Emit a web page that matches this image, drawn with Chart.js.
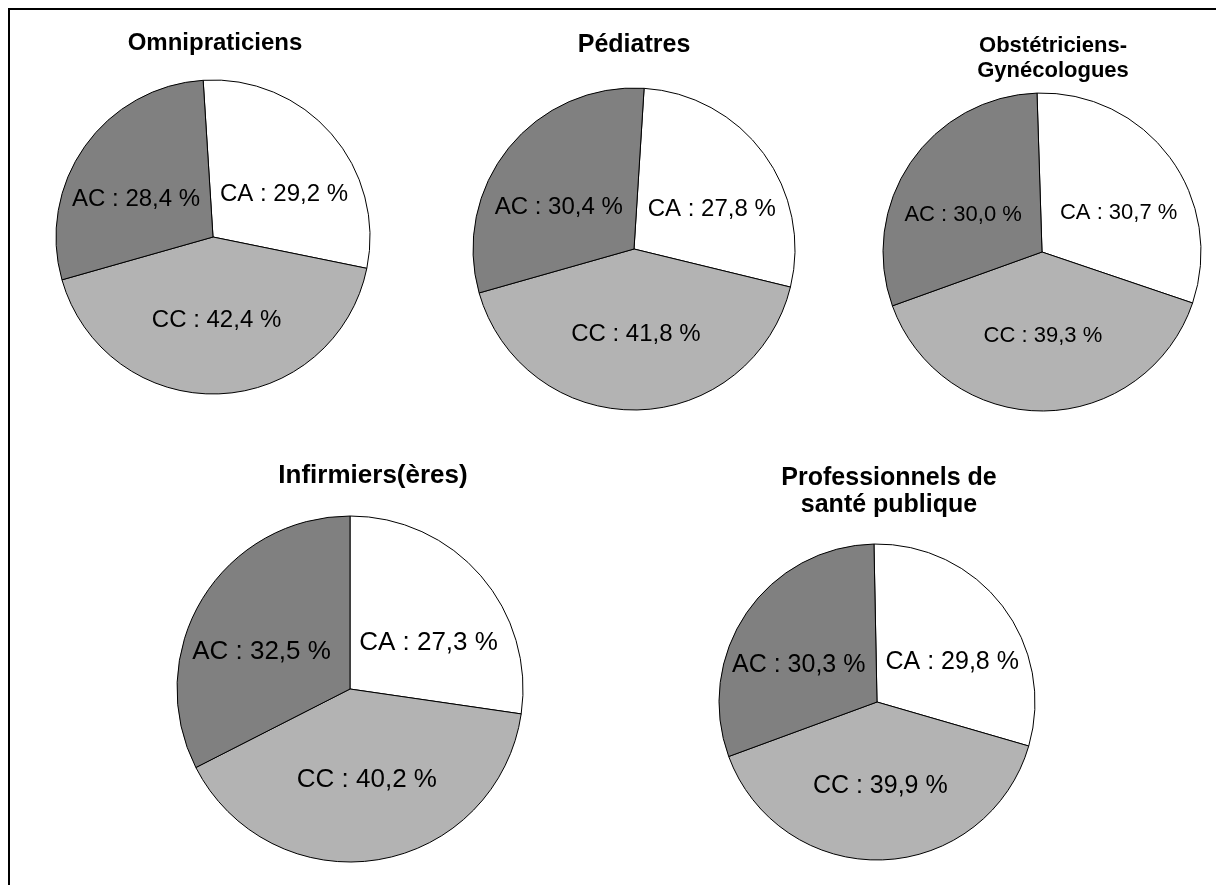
<!DOCTYPE html>
<html lang="fr">
<head>
<meta charset="utf-8">
<script src="https://cdn.jsdelivr.net/npm/chart.js@4.4.0/dist/chart.umd.min.js"></script>
<style>
  html, body { margin: 0; padding: 0; background: #fff; overflow: hidden; }
  .page { position: relative; width: 1216px; height: 885px; }
  .frame { position: absolute; left: 8px; top: 8px; right: 0; bottom: 0; border-left: 2px solid #000; border-top: 2px solid #000; }
  canvas { position: absolute; }
</style>
</head>
<body>
<div class="page" id="page"><div class="frame"></div></div>
<script>
const categories = ["CA", "CC", "AC"];
const titles = [
  ["Omnipraticiens"],
  ["Pédiatres"],
  ["Obstétriciens-", "Gynécologues"],
  ["Infirmiers(ères)"],
  ["Professionnels de", "santé publique"],
];
const omnipraticiens = [29.2, 42.4, 28.4];
const pediatres = [27.8, 41.8, 30.4];
const obstetriciens = [30.7, 39.3, 30.0];
const infirmiers = [27.3, 40.2, 32.5];
const santePublique = [29.8, 39.9, 30.3];
const seriesList = [omnipraticiens, pediatres, obstetriciens, infirmiers, santePublique];

const sliceColors = ["#ffffff", "#b3b3b3", "#808080"];

// where each pie sits on the page, and its text sizes
const layouts = [
  { cx: 213, cy: 237, r: 157, rotation: -3.6, labelSize: 24, titleSize: 24, titleX: 215, baseline: 50, gap: 25 },
  { cx: 634, cy: 249, r: 161, rotation: 3.6, labelSize: 24, titleSize: 25, titleX: 634, baseline: 52, gap: 25 },
  { cx: 1042, cy: 252, r: 159, rotation: -1.8, labelSize: 22, titleSize: 22, titleX: 1053, baseline: 52, gap: 25 },
  { cx: 350, cy: 689, r: 173, rotation: 0, labelSize: 26, titleSize: 26, titleX: 373, baseline: 483, gap: 27 },
  { cx: 877, cy: 702, r: 158, rotation: -1.1, labelSize: 25, titleSize: 25, titleX: 889, baseline: 485, gap: 27 },
];

const fmt = (v) => v.toFixed(1).replace(".", ",") + " %";

const pieText = {
  id: "pieText",
  afterDatasetsDraw(chart, args, opts) {
    const ctx = chart.ctx;
    const meta = chart.getDatasetMeta(0);
    const values = chart.data.datasets[0].data;
    ctx.save();
    ctx.fillStyle = "#000";
    ctx.textAlign = "center";
    ctx.textBaseline = "middle";
    ctx.font = opts.labelSize + "px 'Liberation Sans', Arial, sans-serif";
    meta.data.forEach((arc, i) => {
      const p = arc.getProps(["x", "y", "startAngle", "endAngle", "outerRadius"], true);
      const mid = (p.startAngle + p.endAngle) / 2;
      const s = Math.sin(mid);
      const x = p.x + Math.cos(mid) * p.outerRadius * 0.6;
      const y = p.y + s * p.outerRadius * (s > 0 ? 0.53 : 0.41);
      ctx.fillText(chart.data.labels[i] + " : " + fmt(values[i]), x, y);
    });
    ctx.font = "bold " + opts.titleSize + "px 'Liberation Sans', Arial, sans-serif";
    ctx.textBaseline = "alphabetic";
    opts.lines.forEach((line, k) => {
      ctx.fillText(line, opts.x, opts.y + k * opts.gap);
    });
    ctx.restore();
  },
};

const page = document.getElementById("page");

seriesList.forEach((values, i) => {
  const L = layouts[i];
  const top = i < 3 ? 15 : 440;
  const left = L.cx - L.r - 12;
  const width = 2 * L.r + 24;
  const height = L.cy + L.r + 12 - top;
  const canvas = document.createElement("canvas");
  canvas.width = width;
  canvas.height = height;
  canvas.style.left = left + "px";
  canvas.style.top = top + "px";
  page.appendChild(canvas);

  new Chart(canvas, {
    type: "pie",
    data: {
      labels: categories,
      datasets: [
        {
          data: values,
          backgroundColor: sliceColors,
          borderColor: "#000",
          borderWidth: 1,
          radius: L.r,
        },
      ],
    },
    options: {
      responsive: false,
      animation: false,
      rotation: L.rotation,
      layout: {
        padding: {
          left: 11,
          right: 11,
          top: L.cy - L.r - 1 - top,
          bottom: 11,
        },
      },
      plugins: {
        legend: { display: false },
        tooltip: { enabled: false },
        title: { display: false },
        pieText: {
          labelSize: L.labelSize,
          titleSize: L.titleSize,
          lines: titles[i],
          x: L.titleX - left,
          y: L.baseline - top,
          gap: L.gap,
        },
      },
    },
    plugins: [pieText],
  });
});
</script>
</body>
</html>
